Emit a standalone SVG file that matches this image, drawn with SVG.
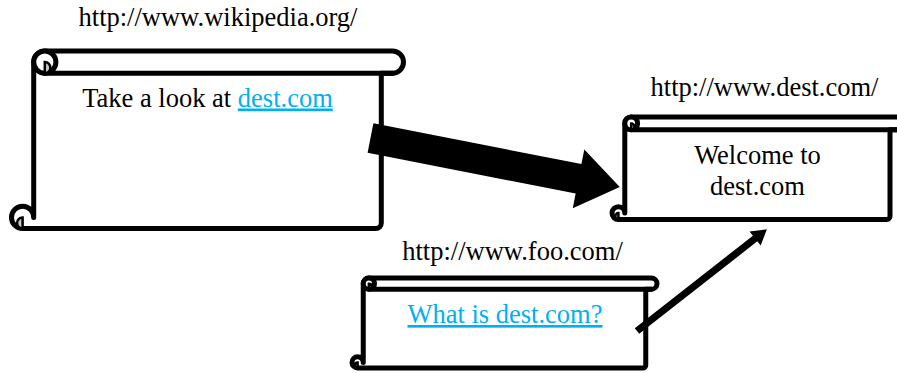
<svg xmlns="http://www.w3.org/2000/svg" width="897" height="373" viewBox="0 0 897 373">
<style>
.sc{fill:#fff;stroke:#000;stroke-width:5;stroke-linejoin:round;stroke-linecap:round}
.ln{fill:none;stroke:#000;stroke-width:5;stroke-linecap:round}
.cu{fill:#c8c8c8;stroke:#000;stroke-width:2.5}
.t{font-family:"Liberation Serif","Times New Roman",serif;font-size:26.5px;fill:#000}
.lk{fill:#00b0f0;text-decoration:underline}
</style>
<rect width="897" height="373" fill="#fff"/>
<g id="wikipedia">
<path class="sc" d="M33.7,217.4 L33.7,62.1 A11.1,11.1 0 0 1 44.8,51 L392.4,51 A11.1,11.1 0 0 1 392.4,73.2 L381.3,73.2 L381.3,222.95 A5.55,5.55 0 0 1 375.75,228.5 L22.6,228.5 A11.1,11.1 0 0 1 22.6,206.3 A11.1,11.1 0 0 1 33.7,217.4 Z"/>
<path class="ln" d="M392.4,73.2 L44.8,73.2"/>
<circle class="sc" cx="44.8" cy="62.1" r="11.1"/>
<path class="cu" d="M44.8,62.1 A5.55,5.55 0 0 1 44.8,73.2 Z"/>
<path class="cu" d="M22.6,217.4 A5.55,5.55 0 0 0 22.6,228.5 Z"/>
<text class="t" x="218" y="26" text-anchor="middle">http://www.wikipedia.org/</text>
<text class="t" x="207.5" y="106.5" text-anchor="middle">Take a look at <tspan class="lk">dest.com</tspan></text>
</g>
<g id="dest">
<path class="sc" d="M624.8,213.1 L624.8,123.4 A6.4,6.4 0 0 1 631.2,117 L896.4,117 A6.4,6.4 0 0 1 896.4,129.8 L890,129.8 L890,216.3 A3.2,3.2 0 0 1 886.8,219.5 L618.4,219.5 A6.4,6.4 0 0 1 618.4,206.7 A6.4,6.4 0 0 1 624.8,213.1 Z"/>
<path class="ln" d="M896.4,129.8 L631.2,129.8"/>
<circle class="sc" cx="631.2" cy="123.4" r="6.4"/>
<path class="cu" d="M631.2,123.4 A3.2,3.2 0 0 1 631.2,129.8 Z"/>
<path class="cu" d="M618.4,213.1 A3.2,3.2 0 0 0 618.4,219.5 Z"/>
<text class="t" x="764.5" y="96" text-anchor="middle">http://www.dest.com/</text>
<text class="t" x="757.5" y="164" text-anchor="middle">Welcome to</text>
<text class="t" x="757.5" y="195" text-anchor="middle">dest.com</text>
</g>
<g id="foo">
<path class="sc" d="M363.25,362.375 L363.25,283.625 A5.625,5.625 0 0 1 368.875,278 L651.375,278 A5.625,5.625 0 0 1 651.375,289.25 L645.75,289.25 L645.75,365.2 A2.8,2.8 0 0 1 642.95,368 L357.625,368 A5.625,5.625 0 0 1 357.625,356.75 A5.625,5.625 0 0 1 363.25,362.375 Z"/>
<path class="ln" d="M651.375,289.25 L368.875,289.25"/>
<circle class="sc" cx="368.875" cy="283.625" r="5.625"/>
<path class="cu" d="M368.875,283.625 A2.8,2.8 0 0 1 368.875,289.25 Z"/>
<path class="cu" d="M357.625,362.375 A2.8,2.8 0 0 0 357.625,368 Z"/>
<text class="t" x="512.5" y="260" text-anchor="middle">http://www.foo.com/</text>
<text class="t" x="505" y="323" text-anchor="middle"><tspan class="lk">What is dest.com?</tspan></text>
</g>
<g id="connectors">
<polygon fill="#000" transform="translate(370.5,138) rotate(11.1)" points="0,-15 212,-15 212,-30 254,0 212,30 212,15 0,15"/>
<polygon fill="#000" transform="translate(637,331) rotate(-38.06)" points="0,-3.6 150,-3.6 150,-9 165,0 150,9 150,3.6 0,3.6"/>
</g>
</svg>
